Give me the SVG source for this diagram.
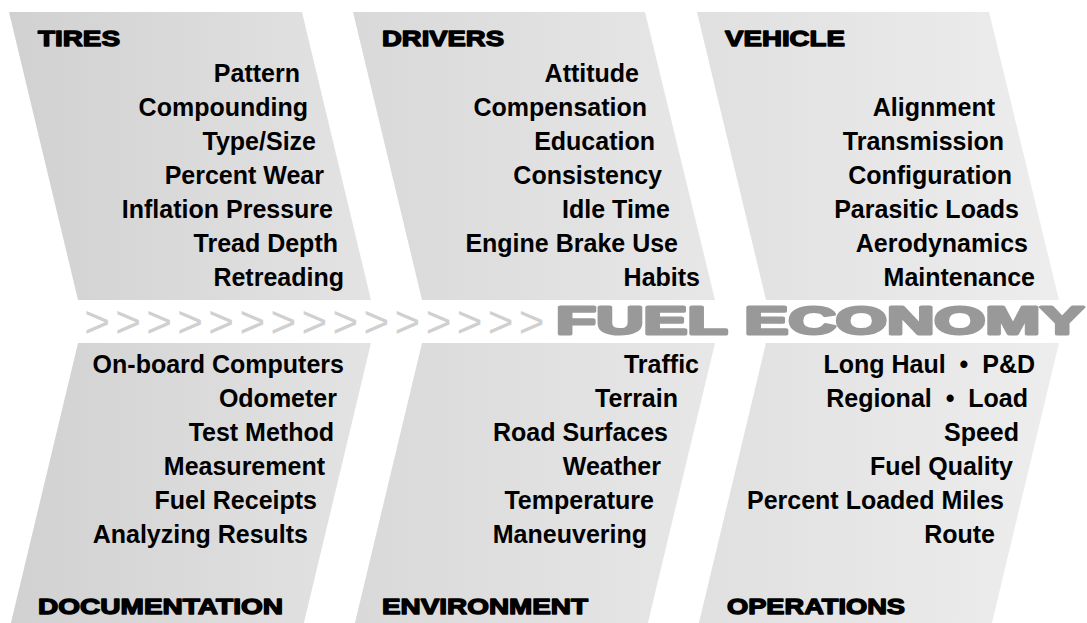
<svg xmlns="http://www.w3.org/2000/svg" width="1087" height="623" viewBox="0 0 1087 623">
<defs>
<linearGradient id="g1" x1="0" y1="0" x2="1" y2="0"><stop offset="0" stop-color="#d1d1d1"/><stop offset="1" stop-color="#e3e3e3"/></linearGradient>
<linearGradient id="g2" x1="0" y1="0" x2="1" y2="0"><stop offset="0" stop-color="#d9d9d9"/><stop offset="1" stop-color="#e7e7e7"/></linearGradient>
<linearGradient id="g3" x1="0" y1="0" x2="1" y2="0"><stop offset="0" stop-color="#e0e0e0"/><stop offset="1" stop-color="#ededed"/></linearGradient>
</defs>
<style>
.item{font-family:"Liberation Sans",Arial,sans-serif;font-weight:bold;font-size:25px;fill:#000;text-anchor:end}
.head{font-family:"Liberation Sans",Arial,sans-serif;font-weight:bold;font-size:21.5px;fill:#000;stroke:#000;stroke-width:1.3px;stroke-linejoin:round}
.chev{font-family:"Liberation Sans",Arial,sans-serif;font-size:44px;fill:#d0d0d0}
.title{font-family:"Liberation Sans",Arial,sans-serif;font-weight:bold;font-size:38px;fill:#999;stroke:#999;stroke-width:3px;stroke-linejoin:round}
</style>
<rect width="1087" height="623" fill="#fff"/>
<g id="tires">
<polygon points="9,12 302,12 371,300 78,300" fill="url(#g1)"/>
<text class="head" x="38" y="45.5" textLength="82" lengthAdjust="spacingAndGlyphs">TIRES</text>
<text class="item" x="300" y="82">Pattern</text>
<text class="item" x="308" y="116">Compounding</text>
<text class="item" x="316" y="150">Type/Size</text>
<text class="item" x="324" y="184">Percent Wear</text>
<text class="item" x="333" y="218">Inflation Pressure</text>
<text class="item" x="338" y="252">Tread Depth</text>
<text class="item" x="344" y="286">Retreading</text>
</g>
<g id="drivers">
<polygon points="353,12 645,12 715,300 422,300" fill="url(#g2)"/>
<text class="head" x="382" y="45.5" textLength="122" lengthAdjust="spacingAndGlyphs">DRIVERS</text>
<text class="item" x="639" y="82">Attitude</text>
<text class="item" x="647" y="116">Compensation</text>
<text class="item" x="655" y="150">Education</text>
<text class="item" x="662" y="184">Consistency</text>
<text class="item" x="670" y="218">Idle Time</text>
<text class="item" x="678" y="252">Engine Brake Use</text>
<text class="item" x="700" y="286">Habits</text>
</g>
<g id="vehicle">
<polygon points="697,12 989,12 1059,300 766,300" fill="url(#g3)"/>
<text class="head" x="725" y="45.5" textLength="120" lengthAdjust="spacingAndGlyphs">VEHICLE</text>
<text class="item" x="995" y="116">Alignment</text>
<text class="item" x="1004" y="150">Transmission</text>
<text class="item" x="1012" y="184">Configuration</text>
<text class="item" x="1019" y="218">Parasitic Loads</text>
<text class="item" x="1028" y="252">Aerodynamics</text>
<text class="item" x="1035" y="286">Maintenance</text>
</g>
<g id="documentation">
<polygon points="78,343 371,343 302,631 9,631" fill="url(#g1)"/>
<text class="item" x="344" y="373">On-board Computers</text>
<text class="item" x="337" y="407">Odometer</text>
<text class="item" x="334" y="441">Test Method</text>
<text class="item" x="325" y="475">Measurement</text>
<text class="item" x="317" y="509">Fuel Receipts</text>
<text class="item" x="308" y="543">Analyzing Results</text>
<text class="head" x="38" y="613.5" textLength="245" lengthAdjust="spacingAndGlyphs">DOCUMENTATION</text>
</g>
<g id="environment">
<polygon points="422,343 715,343 646,631 353,631" fill="url(#g2)"/>
<text class="item" x="699" y="373">Traffic</text>
<text class="item" x="678" y="407">Terrain</text>
<text class="item" x="668" y="441">Road Surfaces</text>
<text class="item" x="661" y="475">Weather</text>
<text class="item" x="654" y="509">Temperature</text>
<text class="item" x="647" y="543">Maneuvering</text>
<text class="head" x="382" y="613.5" textLength="206" lengthAdjust="spacingAndGlyphs">ENVIRONMENT</text>
</g>
<g id="operations">
<polygon points="766,343 1059,343 990,631 697,631" fill="url(#g3)"/>
<text class="item" x="1035" y="373">Long Haul &#160;•&#160; P&amp;D</text>
<text class="item" x="1028" y="407">Regional &#160;•&#160; Load</text>
<text class="item" x="1019" y="441">Speed</text>
<text class="item" x="1013" y="475">Fuel Quality</text>
<text class="item" x="1004" y="509">Percent Loaded Miles</text>
<text class="item" x="995" y="543">Route</text>
<text class="head" x="727" y="613.5" textLength="178" lengthAdjust="spacingAndGlyphs">OPERATIONS</text>
</g>
<g id="connectors">
<text class="chev" x="84.3 115.3 146.3 177.3 208.3 239.4 270.4 301.5 332.5 363.6 394.6 425.7 456.7 487.8 518.8" y="337">&gt;&gt;&gt;&gt;&gt;&gt;&gt;&gt;&gt;&gt;&gt;&gt;&gt;&gt;&gt;</text>
<text class="title" x="556" y="333.5" textLength="528" lengthAdjust="spacingAndGlyphs">FUEL ECONOMY</text>
</g>
</svg>
